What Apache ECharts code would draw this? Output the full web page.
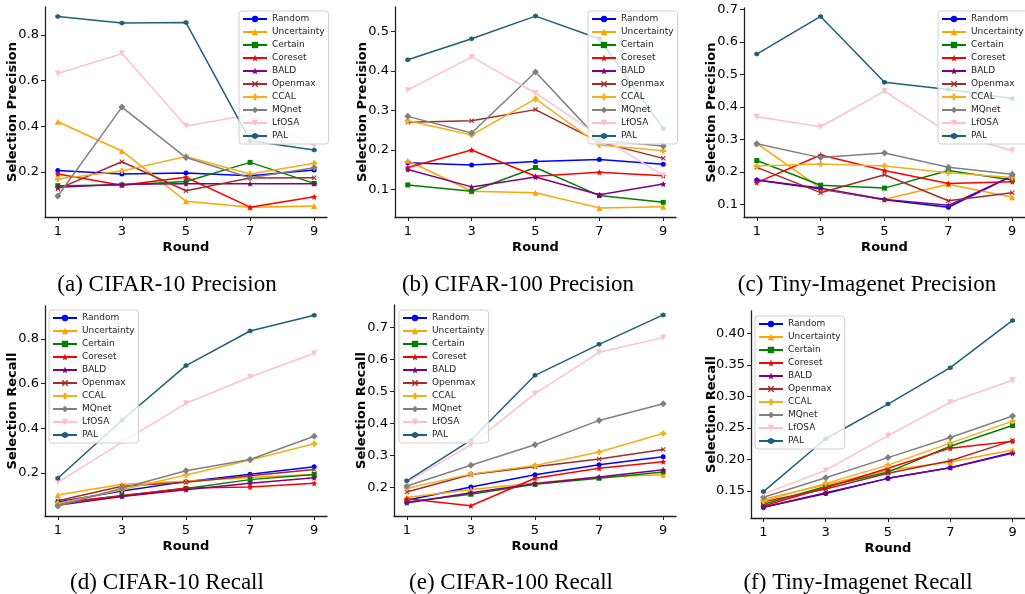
<!DOCTYPE html>
<html>
<head>
<meta charset="utf-8">
<title>Selection precision / recall</title>
<script src="https://cdn.jsdelivr.net/npm/echarts@6/dist/echarts.min.js"></script>
<style>
    html, body { margin: 0; padding: 0; background: #fff; }
    #main { width: 1025px; height: 594px; }
</style>
</head>
<body>
<div id="main"></div>
<script>
// x axis: rounds
let rounds = [1, 3, 5, 7, 9];
let methods = ['Random', 'Uncertainty', 'Certain', 'Coreset', 'BALD', 'Openmax', 'CCAL', 'MQnet', 'LfOSA', 'PAL'];

// one row per method, same order as methods
let cifar10Precision = [
    [0.206, 0.191, 0.196, 0.184, 0.209],
    [0.420, 0.292, 0.072, 0.046, 0.051],
    [0.140, 0.143, 0.158, 0.242, 0.150],
    [0.191, 0.142, 0.177, 0.046, 0.092],
    [0.133, 0.146, 0.148, 0.148, 0.148],
    [0.126, 0.245, 0.118, 0.174, 0.175],
    [0.169, 0.204, 0.268, 0.191, 0.238],
    [0.095, 0.484, 0.263, 0.175, 0.219],
    [0.631, 0.718, 0.401, 0.450, 0.315],
    [0.880, 0.852, 0.854, 0.337, 0.296]
];
let cifar100Precision = [
    [0.168, 0.162, 0.171, 0.176, 0.164],
    [0.173, 0.096, 0.092, 0.054, 0.057],
    [0.112, 0.096, 0.156, 0.085, 0.068],
    [0.156, 0.200, 0.134, 0.144, 0.135],
    [0.151, 0.107, 0.132, 0.087, 0.114],
    [0.270, 0.274, 0.302, 0.220, 0.179],
    [0.274, 0.238, 0.329, 0.213, 0.198],
    [0.285, 0.243, 0.397, 0.225, 0.210],
    [0.351, 0.435, 0.344, 0.235, 0.136],
    [0.428, 0.481, 0.538, 0.481, 0.254]
];
let tinyPrecision = [
    [0.175, 0.147, 0.114, 0.091, 0.188],
    [0.288, 0.149, 0.116, 0.162, 0.122],
    [0.235, 0.159, 0.150, 0.204, 0.175],
    [0.167, 0.252, 0.204, 0.164, 0.170],
    [0.175, 0.150, 0.115, 0.097, 0.187],
    [0.214, 0.136, 0.191, 0.111, 0.136],
    [0.218, 0.224, 0.218, 0.197, 0.183],
    [0.287, 0.244, 0.258, 0.214, 0.193],
    [0.370, 0.339, 0.449, 0.320, 0.266],
    [0.563, 0.679, 0.476, 0.454, 0.426]
];
let cifar10Recall = [
    [0.070, 0.119, 0.161, 0.194, 0.228],
    [0.101, 0.149, 0.163, 0.179, 0.193],
    [0.063, 0.099, 0.130, 0.170, 0.193],
    [0.066, 0.097, 0.133, 0.137, 0.154],
    [0.055, 0.094, 0.125, 0.154, 0.178],
    [0.075, 0.140, 0.158, 0.187, 0.215],
    [0.063, 0.125, 0.191, 0.258, 0.331],
    [0.052, 0.131, 0.210, 0.260, 0.364],
    [0.158, 0.337, 0.512, 0.630, 0.736],
    [0.176, 0.436, 0.681, 0.836, 0.907]
];
let cifar100Recall = [
    [0.159, 0.201, 0.239, 0.270, 0.295],
    [0.168, 0.193, 0.213, 0.232, 0.239],
    [0.154, 0.178, 0.209, 0.228, 0.248],
    [0.164, 0.142, 0.228, 0.259, 0.280],
    [0.151, 0.183, 0.211, 0.232, 0.255],
    [0.185, 0.240, 0.264, 0.288, 0.318],
    [0.197, 0.241, 0.268, 0.310, 0.368],
    [0.204, 0.269, 0.333, 0.409, 0.461],
    [0.216, 0.333, 0.493, 0.622, 0.668],
    [0.220, 0.347, 0.550, 0.647, 0.739]
];
let tinyRecall = [
    [0.124, 0.146, 0.170, 0.187, 0.211],
    [0.137, 0.160, 0.183, 0.196, 0.215],
    [0.129, 0.157, 0.180, 0.221, 0.254],
    [0.126, 0.155, 0.186, 0.218, 0.229],
    [0.124, 0.147, 0.170, 0.187, 0.210],
    [0.133, 0.153, 0.178, 0.198, 0.230],
    [0.134, 0.162, 0.191, 0.226, 0.261],
    [0.140, 0.171, 0.203, 0.235, 0.269],
    [0.145, 0.183, 0.238, 0.291, 0.326],
    [0.149, 0.233, 0.288, 0.346, 0.421]
];

// tick labels of each panel's y axis
let yTicksA = ['0.2', '0.4', '0.6', '0.8'];
let yTicksB = ['0.1', '0.2', '0.3', '0.4', '0.5'];
let yTicksC = ['0.1', '0.2', '0.3', '0.4', '0.5', '0.6', '0.7'];
let yTicksD = ['0.2', '0.4', '0.6', '0.8'];
let yTicksE = ['0.2', '0.3', '0.4', '0.5', '0.6', '0.7'];
let yTicksF = ['0.15', '0.20', '0.25', '0.30', '0.35', '0.40'];

let captions = ['(a) CIFAR-10 Precision', '(b) CIFAR-100 Precision', '(c) Tiny-Imagenet Precision',
    '(d) CIFAR-10 Recall', '(e) CIFAR-100 Recall', '(f) Tiny-Imagenet Recall'];

// ---- layout / style ----
let panels = [
    {values: cifar10Precision, ticks: yTicksA, yMin: 0.003, yMax: 0.922, yName: 'Selection Precision', nameGap: 26,
        grid: {left: 45, top: 7, width: 282, height: 210}, legend: {left: 239, top: 11}, cap: [167, 285]},
    {values: cifar100Precision, ticks: yTicksB, yMin: 0.031, yMax: 0.561, yName: 'Selection Precision', nameGap: 26,
        grid: {left: 395, top: 7, width: 281, height: 210}, legend: {left: 588, top: 11}, cap: [518, 285]},
    {values: tinyPrecision, ticks: yTicksC, yMin: 0.061, yMax: 0.705, yName: 'Selection Precision', nameGap: 26,
        grid: {left: 744, top: 8, width: 282, height: 209}, legend: {left: 938, top: 11}, cap: [867, 285]},
    {values: cifar10Recall, ticks: yTicksD, yMin: 0.007, yMax: 0.948, yName: 'Selection Recall', nameGap: 26,
        grid: {left: 45, top: 306, width: 282, height: 210}, legend: {left: 49, top: 310}, cap: [167, 583]},
    {values: cifar100Recall, ticks: yTicksE, yMin: 0.11, yMax: 0.77, yName: 'Selection Recall', nameGap: 26,
        grid: {left: 394, top: 305, width: 282, height: 211}, legend: {left: 399, top: 310}, cap: [511, 583]},
    {values: tinyRecall, ticks: yTicksF, yMin: 0.107, yMax: 0.436, yName: 'Selection Recall', nameGap: 33,
        grid: {left: 751, top: 311, width: 275, height: 207}, legend: {left: 755, top: 316}, cap: [858, 583]}
];

let starPath = 'path://M0,-10L2.9,-4L9.5,-3.1L4.7,1.5L5.9,8.1L0,5L-5.9,8.1L-4.7,1.5L-9.5,-3.1L-2.9,-4Z';
let crossPath = 'path://M-10,-7L-7,-10L0,-3L7,-10L10,-7L3,0L10,7L7,10L0,3L-7,10L-10,7L-3,0Z';
let plusPath = 'path://M-4,-10H4V-4H10V4H4V10H-4V4H-10V-4H-4Z';
let hexPath = 'path://M0,-10L8.66,-5L8.66,5L0,10L-8.66,5L-8.66,-5Z';

let styles = [
    {color: '#0000ff', symbol: 'circle', size: 5},
    {color: '#ffa500', symbol: 'triangle', size: 6},
    {color: '#008000', symbol: 'rect', size: 5},
    {color: '#ff0000', symbol: starPath, size: 6},
    {color: '#800080', symbol: starPath, size: 6},
    {color: '#a52a2a', symbol: crossPath, size: 5},
    {color: '#f0b020', symbol: plusPath, size: 6},
    {color: '#808080', symbol: 'diamond', size: 7},
    {color: '#ffc0cb', symbol: 'triangle', size: 6, rotate: 180},
    {color: '#1f5f7a', symbol: hexPath, size: 5}
];

let axisColor = '#222';
let font = 'DejaVu Sans';

let grids = [], xAxes = [], yAxes = [], legends = [], series = [], graphics = [];

panels.forEach(function (p, pi) {
    grids.push(p.grid);
    xAxes.push({
        type: 'value',
        gridIndex: pi,
        min: 0.6,
        max: 9.4,
        name: 'Round',
        nameLocation: 'middle',
        nameGap: 24,
        nameTextStyle: {fontFamily: font, fontSize: 13, fontWeight: 'bold', color: '#000'},
        splitLine: {show: false},
        axisLine: {lineStyle: {color: axisColor, width: 1.3}},
        axisTick: {length: 4, customValues: rounds, lineStyle: {color: axisColor}},
        axisLabel: {customValues: rounds, margin: 8, fontFamily: font, fontSize: 13, color: '#000'}
    });
    let tickValues = p.ticks.map(function (s) { return parseFloat(s); });
    yAxes.push({
        type: 'value',
        gridIndex: pi,
        min: p.yMin,
        max: p.yMax,
        name: p.yName,
        nameLocation: 'middle',
        nameGap: p.nameGap,
        nameMoveOverlap: false,
        nameTextStyle: {fontFamily: font, fontSize: 13, fontWeight: 'bold', color: '#000'},
        splitLine: {show: false},
        axisLine: {show: true, lineStyle: {color: axisColor, width: 1.3}},
        axisTick: {show: true, length: 4, customValues: tickValues, lineStyle: {color: axisColor}},
        axisLabel: {
            customValues: tickValues,
            margin: 6,
            fontFamily: font,
            fontSize: 13,
            color: '#000',
            formatter: function (v) {
                let s = p.ticks.find(function (t) { return Math.abs(parseFloat(t) - v) < 1e-9; });
                return s || '';
            }
        }
    });
    legends.push({
        orient: 'vertical',
        left: p.legend.left,
        top: p.legend.top,
        data: methods,
        itemWidth: 24,
        itemHeight: 8,
        itemGap: 3,
        padding: [3, 4, 3, 3],
        backgroundColor: 'rgba(255,255,255,0.8)',
        borderColor: '#d0d0d0',
        borderWidth: 1,
        borderRadius: 3,
        selectedMode: false,
        textStyle: {fontFamily: font, fontSize: 9, lineHeight: 10, color: '#222'}
    });
    methods.forEach(function (m, mi) {
        let st = styles[mi];
        series.push({
            name: m,
            type: 'line',
            xAxisIndex: pi,
            yAxisIndex: pi,
            data: rounds.map(function (r, i) { return [r, p.values[mi][i]]; }),
            symbol: st.symbol,
            symbolSize: st.size,
            symbolRotate: st.rotate || 0,
            showAllSymbol: true,
            lineStyle: {color: st.color, width: 1.5},
            itemStyle: {color: st.color},
            animation: false
        });
    });
    graphics.push({
        type: 'text',
        x: p.cap[0],
        y: p.cap[1],
        style: {
            text: captions[pi],
            fontFamily: 'Liberation Serif',
            fontSize: 23,
            fill: '#000',
            textAlign: 'center',
            textVerticalAlign: 'middle'
        }
    });
});

let chart = echarts.init(document.getElementById('main'));
chart.setOption({
    animation: false,
    grid: grids,
    xAxis: xAxes,
    yAxis: yAxes,
    legend: legends,
    series: series,
    graphic: graphics
});
</script>
</body>
</html>
